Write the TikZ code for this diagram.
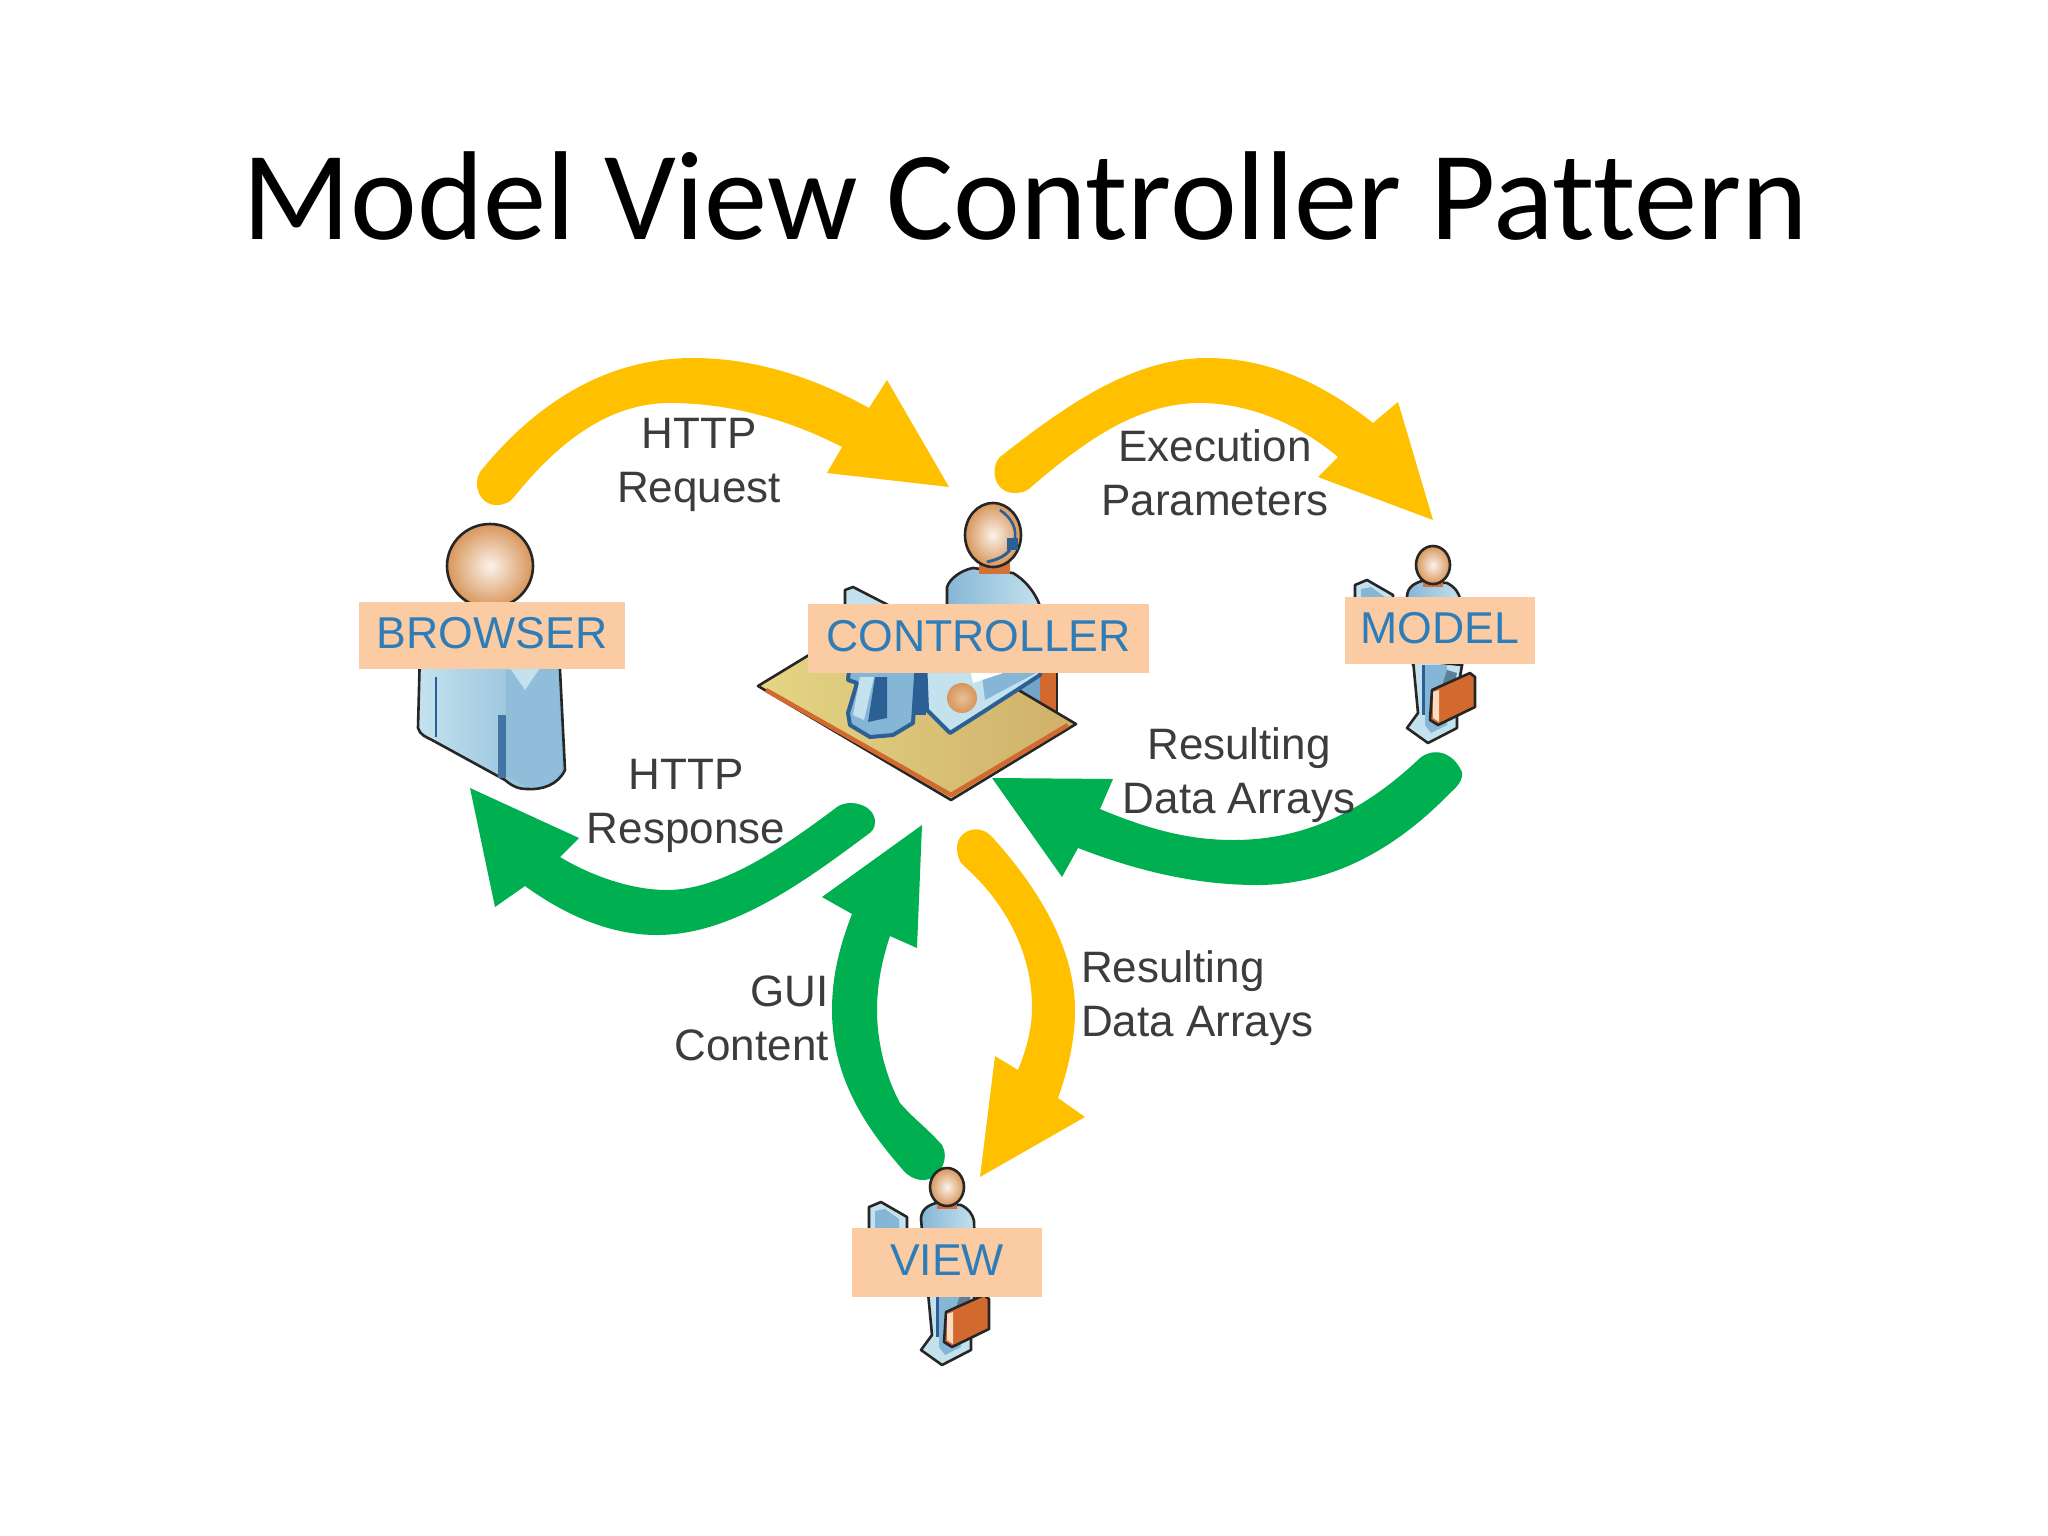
\documentclass[tikz,border=0pt]{standalone}
\usepackage{fontspec}
\setmainfont{Liberation Sans}
\newfontfamily\titlefont[Ligatures=NoCommon]{Carlito}
\definecolor{yarrow}{HTML}{FFC000}
\definecolor{garrow}{HTML}{00B050}
\definecolor{tagfill}{HTML}{FBCBA3}
\definecolor{tagtext}{HTML}{2E7DB8}
\definecolor{captext}{HTML}{3C3C3C}
\definecolor{darkblue}{HTML}{2C5F94}
\definecolor{midblue}{HTML}{86B6D6}
\definecolor{lightblue}{HTML}{C4E2EE}
\definecolor{orangeb}{HTML}{D2692E}
\definecolor{skin}{HTML}{D8965A}
\definecolor{deskhi}{HTML}{E4D584}
\definecolor{desklo}{HTML}{CFB06A}
\tikzset{
  yblock/.style={fill=yarrow,draw=none},
  gblock/.style={fill=garrow,draw=none},
  tag/.style={fill=tagfill,text=tagtext,font=\fontsize{44.6}{50}\selectfont,inner sep=0pt,anchor=center,text depth=5pt},
  caption/.style={text=captext,font=\fontsize{44}{54}\selectfont,inner sep=0pt,align=center,anchor=base},
  outline/.style={draw=black!85,line width=2.6pt,line join=round},
  headball/.style={outline,inner color=white!88!skin,outer color=skin},
  agent/.pic={
    % torso
    \draw[outline,left color=midblue,right color=lightblue] (-26,32) .. controls (-26,22) and (-18,18) .. (-11,16) -- (14,18) .. controls (22,22) and (26,28) .. (27,34) -- (29,100) -- (-20,100) -- cycle;
    % book
    \draw[outline,fill=lightblue] (-78,60) -- (-78,20) -- (-66,15) -- (-40,30) -- (-40,60) -- cycle;
    \fill[midblue] (-72,24) -- (-62,22) -- (-48,32) -- (-48,50) -- (-72,50) -- cycle;
    % legs and feet
    \draw[outline,fill=lightblue] (-20,95) -- (-15,148) -- (-26,163) -- (-5,178) -- (24,163) -- (24,130) -- (29,100) -- cycle;
    \fill[midblue] (-8,100) -- (-8,160) -- (-2,168) -- (14,160) -- (14,100) -- cycle;
    \fill[darkblue] (-11,100) rectangle (-8,150);
    % briefcase
    \fill[midblue!70!black] (6,130) -- (14,105) -- (24,108) -- (20,125) -- cycle;
    \draw[outline,fill=orangeb] (-1,125) -- (37,108) -- (42,112) -- (42,142) -- (5,160) -- (-3,155) -- cycle;
    \fill[tagfill!70!white] (0,127) -- (6,125) -- (6,157) -- (0,153) -- cycle;
    % neck and head
    \fill[orangeb!80!skin] (-10,12) rectangle (10,22);
    \draw[headball] (0,0) ellipse (17 and 19);
  }
}
\begin{document}
\begin{tikzpicture}[x=1pt,y=-1pt]
\useasboundingbox (0,0) rectangle (2048,1536);
\fill[white] (0,0) rectangle (2048,1536);

\node[font=\titlefont\fontsize{126.5}{130}\selectfont,text=black,inner sep=0pt,anchor=base] (title) at (1025,239) {Model View Controller Pattern};

% ---- block arrows
\fill[yblock] (514,497) .. controls (560,440) and (610,403) .. (670,403) .. controls (730,403) and (790,420) .. (842,447) -- (827,473) -- (949,487) -- (887,380) -- (869,408) .. controls (810,375) and (750,358) .. (693,358) .. controls (600,358) and (530,410) .. (480,472) .. controls (472,485) and (480,505) .. (496,505) .. controls (505,505) and (510,502) .. (514,497) -- cycle;
\fill[yblock] (1030,488) .. controls (1080,445) and (1135,403) .. (1200,403) .. controls (1250,403) and (1300,425) .. (1338,457) -- (1318,477) -- (1433,520) -- (1398,402) -- (1373,423) .. controls (1325,385) and (1270,358) .. (1207,358) .. controls (1130,358) and (1060,410) .. (1000,457) .. controls (990,467) and (993,493) .. (1015,493) .. controls (1022,493) and (1027,491) .. (1030,488) -- cycle;
\fill[gblock] (992,778) -- (1113,779) -- (1100,809) .. controls (1150,830) and (1190,840) .. (1233,840) .. controls (1300,840) and (1360,815) .. (1420,758) .. controls (1432,748) and (1452,750) .. (1462,772) .. controls (1463,780) and (1458,786) .. (1450,793) .. controls (1395,850) and (1330,885) .. (1257,885) .. controls (1190,885) and (1130,868) .. (1078,848) -- (1062,877) -- cycle;
\fill[gblock] (470,788) -- (579,838) -- (560,857) .. controls (590,875) and (630,890) .. (667,890) .. controls (720,890) and (780,850) .. (837,807) .. controls (850,798) and (875,805) .. (875,822) .. controls (875,828) and (872,832) .. (867,835) .. controls (800,885) and (730,935) .. (657,935) .. controls (610,935) and (565,915) .. (525,886) -- (495,907) -- cycle;
\fill[gblock] (922,825) -- (917,948) -- (890,936) .. controls (882,960) and (877,985) .. (877,1010) .. controls (877,1050) and (890,1085) .. (900,1103) .. controls (915,1120) and (927,1128) .. (942,1145) .. controls (950,1158) and (940,1180) .. (923,1180) .. controls (915,1180) and (908,1176) .. (903,1170) .. controls (868,1130) and (832,1080) .. (832,1010) .. controls (832,975) and (840,945) .. (852,914) -- (822,897) -- cycle;
\fill[yblock] (963,865) .. controls (1003,900) and (1032,950) .. (1032,1007) .. controls (1032,1030) and (1026,1050) .. (1018,1070) -- (995,1056) -- (980,1177) -- (1085,1117) -- (1058,1098) .. controls (1068,1070) and (1075,1040) .. (1075,1010) .. controls (1075,950) and (1040,890) .. (993,838) .. controls (980,822) and (957,830) .. (957,848) .. controls (957,855) and (959,861) .. (963,865) -- cycle;

% ---- browser person
\draw[outline,left color=lightblue,right color=midblue] (420,650) -- (418,728) .. controls (420,735) and (426,737) .. (432,740) -- (505,780) .. controls (512,786) and (518,789) .. (527,789) .. controls (542,790) and (558,785) .. (565,770) -- (559,650) -- cycle;
\fill[midblue!85!lightblue] (506,670) -- (558,670) -- (562,770) .. controls (555,783) and (540,787) .. (527,786) -- (506,777) -- cycle;
\fill[lightblue] (510,668) -- (540,668) -- (525,690) -- cycle;
\fill[darkblue!75!midblue] (498,715) rectangle (506,778);
\draw[darkblue,line width=2pt] (436,677) -- (436,737);
\draw[headball] (490,566) ellipse (43 and 42);

% ---- controller: desk and person
\fill[orangeb] (1040,660) rectangle (1057,716);
\draw[black!85,line width=2.5pt] (1057,660) -- (1057,714);
\fill[midblue!80!darkblue] (1005,660) rectangle (1040,710);
\draw[outline,left color=deskhi,right color=desklo] (758,686) -- (883,610) -- (1076,724) -- (951,800) -- cycle;
\draw[orangeb,line width=4.5pt,line join=round] (766,690) -- (951,795) -- (1068,725);
% foot
\draw[darkblue,line width=4pt,fill=midblue,line join=round] (850,660) -- (848,680) -- (857,683) -- (848,713) -- (850,725) -- (870,737) -- (893,735) -- (913,723) -- (917,660) -- cycle;
\fill[lightblue] (860,677) -- (874,677) -- (864,720) -- (853,715) -- cycle;
\fill[darkblue] (875,677) -- (887,677) -- (887,718) -- (868,722) -- cycle;
% arm
\fill[darkblue] (915,660) rectangle (926,715);
\draw[darkblue,line width=4pt,fill=lightblue,line join=round] (925,660) -- (927,710) -- (950,733) -- (983,712) -- (1017,690) -- (1040,675) -- (1040,660) -- cycle;
\fill[midblue] (985,700) -- (1015,684) -- (1038,672) -- (1038,660) -- (980,660) -- cycle;
\fill[white] (973,683) -- (1003,673) -- (985,668) -- (970,668) -- cycle;
\shade[inner color=skin!60!white,outer color=skin] (962,698) circle (15);
% monitor
\draw[outline,fill=lightblue] (845,620) -- (845,590) -- (853,587) -- (890,606) -- (890,620) -- cycle;
% torso and head
\draw[outline,left color=midblue,right color=lightblue] (947,620) -- (947,587) .. controls (950,578) and (962,570) .. (973,568) -- (1013,573) .. controls (1025,580) and (1035,592) .. (1040,606) -- (1040,620) -- cycle;
\fill[orangeb!80!skin] (979,558) rectangle (1010,574);
\draw[headball] (993,535) ellipse (28 and 32);
\draw[darkblue,line width=2.6pt] (1000,510) .. controls (1012,518) and (1018,530) .. (1014,542);
\fill[darkblue] (1007,538) rectangle (1018,550);
\draw[darkblue,line width=3pt] (1010,550) .. controls (1003,558) and (995,560) .. (987,562);

% ---- model and view people
\pic at (1433,565) {agent};
\pic at (947,1187) {agent};

% ---- name tags
\node[tag,minimum width=266pt,minimum height=67pt] (browser) at (492,635.5) {BROWSER};
\node[tag,minimum width=341pt,minimum height=69pt] (controller) at (978.5,638.5) {CONTROLLER};
\node[tag,minimum width=190pt,minimum height=67pt] (model) at (1440,630.5) {MODEL};
\node[tag,minimum width=190pt,minimum height=69pt] (view) at (947,1262.5) {VIEW};

% ---- captions (the base anchor of a two-line node is its last line)
\node[caption] (req) at (699,502) {HTTP\\Request};
\node[caption] (exec) at (1215,515) {Execution\\Parameters};
\node[caption] (res1) at (1239,813) {Resulting\\Data Arrays};
\node[caption] (resp) at (686,843) {HTTP\\Response};
\node[caption,align=right,anchor=base east] (gui) at (829,1060) {GUI\\Content};
\node[caption,align=left,anchor=base west] (res2) at (1081,1036) {Resulting\\Data Arrays};
\end{tikzpicture}
\end{document}
